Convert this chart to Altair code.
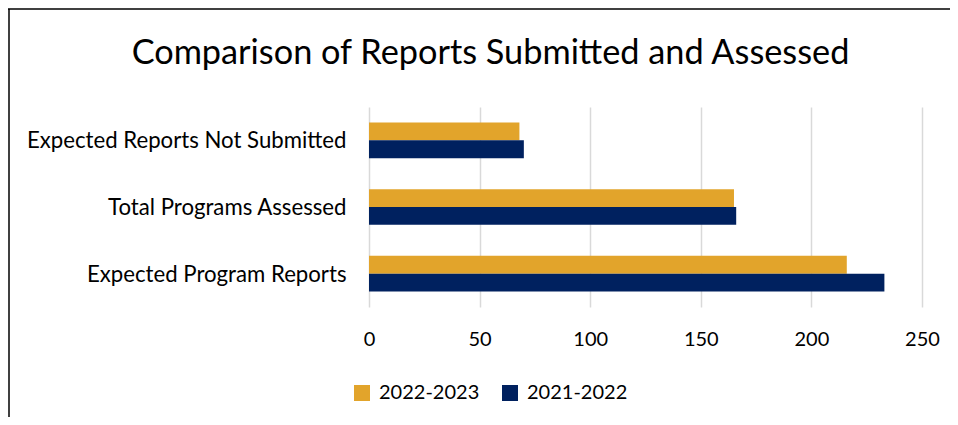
import altair as alt
import pandas as pd

categories = ["Expected Reports Not Submitted", "Total Programs Assessed", "Expected Program Reports"]
series = ["2022-2023", "2021-2022"]
values_2022_2023 = [68, 165, 216]
values_2021_2022 = [70, 166, 233]
colors = ["#E2A42B", "#00215F"]
x_ticks = [0, 50, 100, 150, 200, 250]

rows = []
for c, v in zip(categories, values_2022_2023):
    rows.append({"category": c, "year": series[0], "value": v})
for c, v in zip(categories, values_2021_2022):
    rows.append({"category": c, "year": series[1], "value": v})
df = pd.DataFrame(rows)

FONT = "Lato"

bars = alt.Chart(df).mark_bar().encode(
    x=alt.X("value:Q", scale=alt.Scale(domain=[0, 250], nice=False),
            axis=alt.Axis(values=x_ticks, title=None, domain=False, ticks=False,
                          grid=True, gridColor="#D9D9D9", gridWidth=1.5,
                          labelFontSize=20, labelColor="#000000", labelFont=FONT,
                          labelFlush=False, labelPadding=22)),
    y=alt.Y("category:N", sort=categories,
            scale=alt.Scale(paddingInner=0.466, paddingOuter=0.233),
            axis=alt.Axis(title=None, domain=False, ticks=False,
                          labelFontSize=22.2, labelColor="#000000", labelFont=FONT,
                          labelPadding=23, labelLimit=400, labelOffset=1)),
    yOffset=alt.YOffset("year:N", sort=series),
    color=alt.Color("year:N", sort=series,
                    scale=alt.Scale(domain=series, range=colors),
                    legend=alt.Legend(title=None, orient="none", direction="horizontal",
                                      legendX=-17, legendY=276,
                                      symbolType="square", symbolSize=256,
                                      symbolStrokeWidth=0,
                                      labelFontSize=20, labelFont=FONT, labelColor="#000000",
                                      labelOffset=7, columnPadding=20)),
)

frame = alt.Chart(alt.Data(values=[{"a": 1}])).mark_rule(color="#000000", strokeWidth=1.5).encode(
    x=alt.value(-360), y=alt.value(-98), y2=alt.value(330)
)
frame_top = alt.Chart(alt.Data(values=[{"a": 1}])).mark_rule(color="#000000", strokeWidth=1.5).encode(
    x=alt.value(-361), x2=alt.value(600), y=alt.value(-98)
)

chart = alt.layer(bars, frame, frame_top).properties(
    width=553, height=200,
    autosize=alt.AutoSizeParams(type="none"),
    padding={"left": 361, "top": 99, "right": 28, "bottom": 110},
    title=alt.TitleParams("Comparison of Reports Submitted and Assessed",
                          fontSize=34.3, font=FONT, fontWeight="normal", color="#000000",
                          anchor="middle", frame="group", dx=-155, offset=-63),
).configure_view(stroke=None)

chart.save("out.html", embed_options={"renderer": "svg", "actions": False})
